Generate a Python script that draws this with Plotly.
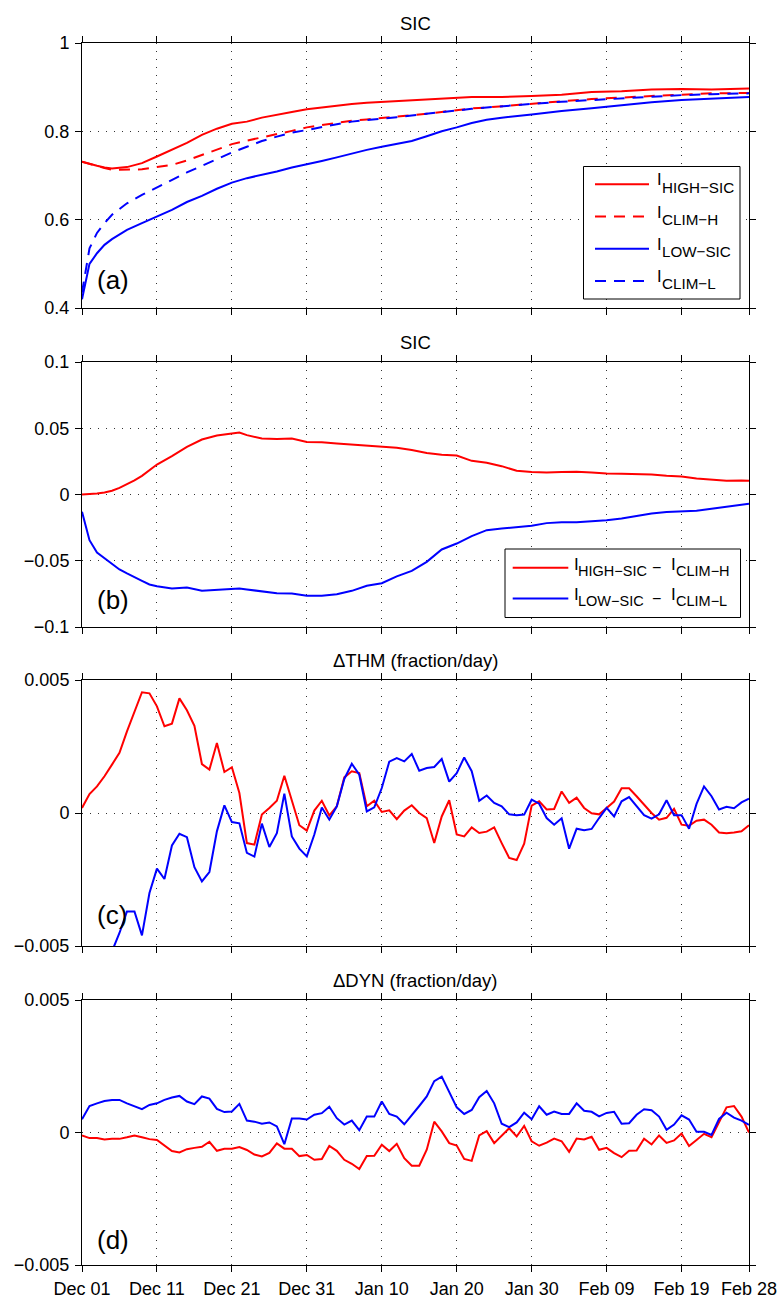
import pandas as pd
import plotly.graph_objects as go
from plotly.subplots import make_subplots

# ---------------- data ----------------
start = pd.Timestamp("2001-12-01")
n_days = 90

# Panel (a): SIC (day offsets from Dec 01)
days_a = [0, 1, 2, 3, 4, 6, 8, 10, 12, 14, 16, 18, 20, 22, 24, 26, 28, 30, 32, 34, 36, 38,
          40, 42, 44, 46, 48, 50, 52, 54, 56, 60, 64, 68, 72, 76, 80, 84, 89]
sic_high = [0.731, 0.726, 0.722, 0.718, 0.716, 0.719, 0.728, 0.743, 0.758, 0.774, 0.792, 0.806,
            0.817, 0.822, 0.831, 0.838, 0.844, 0.850, 0.854, 0.859, 0.862, 0.865,
            0.867, 0.869, 0.871, 0.873, 0.874, 0.876, 0.878, 0.878, 0.878, 0.880, 0.883,
            0.889, 0.891, 0.895, 0.896, 0.895, 0.897]
sic_clim_h = [0.731, 0.726, 0.722, 0.717, 0.713, 0.713, 0.714, 0.719, 0.724, 0.734, 0.746, 0.758,
              0.771, 0.779, 0.786, 0.794, 0.801, 0.809, 0.814, 0.820, 0.824, 0.827,
              0.830, 0.833, 0.837, 0.840, 0.844, 0.848, 0.852, 0.854, 0.857, 0.863, 0.868,
              0.873, 0.877, 0.880, 0.883, 0.886, 0.887]
sic_low = [0.420, 0.500, 0.524, 0.543, 0.556, 0.577, 0.592, 0.607, 0.622, 0.640, 0.654, 0.670,
           0.684, 0.694, 0.701, 0.709, 0.718, 0.725, 0.733, 0.741, 0.750, 0.758,
           0.765, 0.771, 0.778, 0.789, 0.800, 0.809, 0.819, 0.826, 0.831, 0.838, 0.846,
           0.852, 0.859, 0.866, 0.871, 0.874, 0.878]
sic_clim_l = [0.435, 0.535, 0.570, 0.592, 0.611, 0.637, 0.656, 0.673, 0.690, 0.707, 0.722, 0.737,
              0.752, 0.765, 0.778, 0.788, 0.797, 0.803, 0.810, 0.816, 0.822, 0.825,
              0.829, 0.832, 0.836, 0.840, 0.843, 0.847, 0.851, 0.854, 0.857, 0.862, 0.867,
              0.871, 0.875, 0.879, 0.882, 0.884, 0.886]

# Panel (b): SIC differences
days_b = [0, 1, 2, 3, 4, 5, 6, 7, 8, 9, 10, 12, 14, 16, 18, 20, 21, 22, 24, 26, 28, 30, 32, 34,
          36, 38, 40, 42, 44, 46, 48, 50, 52, 54, 56, 58, 60, 62, 64, 66, 68, 70, 72, 74,
          76, 78, 80, 82, 84, 86, 88, 89]
diff_high = [0.0, 0.0003, 0.0008, 0.0015, 0.0028, 0.0050, 0.0075, 0.0106, 0.0141, 0.0184, 0.0226,
             0.0290, 0.0360, 0.0415, 0.0445, 0.0460, 0.0468, 0.0448, 0.0423, 0.0418, 0.0423,
             0.0397, 0.0395, 0.0385, 0.0377, 0.0372, 0.0363, 0.0352, 0.0335, 0.0314, 0.0300,
             0.0294, 0.0254, 0.0239, 0.0214, 0.0179, 0.0169, 0.0166, 0.0169, 0.0171, 0.0166,
             0.0158, 0.0156, 0.0156, 0.0151, 0.0141, 0.0136, 0.0121, 0.0111, 0.0103, 0.0106, 0.0103]
diff_low = [-0.0131, -0.0345, -0.0438, -0.0483, -0.0528, -0.0566, -0.0596, -0.0621, -0.0652,
            -0.0679, -0.0692, -0.0709, -0.0702, -0.0727, -0.0722, -0.0712, -0.0710, -0.0717,
            -0.0732, -0.0745, -0.0747, -0.0765, -0.0765, -0.0752, -0.0727, -0.0689, -0.0670,
            -0.0618, -0.0576, -0.0508, -0.0415, -0.0370, -0.0314, -0.0269, -0.0257, -0.0249,
            -0.0236, -0.0216, -0.0209, -0.0209, -0.0204, -0.0194, -0.0181, -0.0164, -0.0143,
            -0.0133, -0.0126, -0.0123, -0.0108, -0.0093, -0.0078, -0.0070]

# Panel (c): delta THM (fraction/day), daily
thm_high = [0.00019, 0.00071, 0.00100, 0.00138, 0.00182, 0.00226, 0.00307, 0.00382, 0.00454, 0.00450,
            0.00401, 0.00326, 0.00336, 0.00431, 0.00386, 0.00328, 0.00184, 0.00163, 0.00263, 0.00154,
            0.00172, 0.00075, -0.00113, -0.00119, -0.00006, 0.00019, 0.00046, 0.00140, 0.00044, -0.00046,
            -0.00066, 0.00009, 0.00046, -0.00009, 0.00025, 0.00134, 0.00157, 0.00150, 0.00025, 0.00046,
            0.00004, 0.00010, -0.00023, 0.00009, 0.00029, 0.00000, -0.00019, -0.00113, -0.00013, 0.00048,
            -0.00081, -0.00088, -0.00054, -0.00075, -0.00070, -0.00054, -0.00113, -0.00169, -0.00177, -0.00115,
            0.00028, 0.00044, 0.00013, 0.00015, 0.00081, 0.00038, 0.00058, 0.00019, -0.00001, -0.00005,
            0.00019, 0.00043, 0.00093, 0.00093, 0.00063, 0.00031, 0.00000, -0.00025, -0.00018, 0.00016,
            -0.00044, -0.00048, -0.00029, -0.00025, -0.00044, -0.00073, -0.00076, -0.00073, -0.00069, -0.00046]
thm_low = [-0.00850, -0.00780, -0.00680, -0.00600, -0.00520, -0.00451, -0.00370, -0.00370, -0.00460, -0.00301,
           -0.00209, -0.00248, -0.00122, -0.00078, -0.00091, -0.00204, -0.00257, -0.00222, -0.00069, 0.00029,
           -0.00034, -0.00039, -0.00150, -0.00164, -0.00040, -0.00128, -0.00076, 0.00073, -0.00088, -0.00134,
           -0.00163, -0.00081, 0.00021, -0.00025, 0.00025, 0.00128, 0.00185, 0.00144, 0.00006, 0.00021,
           0.00094, 0.00193, 0.00206, 0.00194, 0.00222, 0.00159, 0.00169, 0.00173, 0.00203, 0.00118,
           0.00150, 0.00209, 0.00157, 0.00046, 0.00066, 0.00038, 0.00025, -0.00005, -0.00008, -0.00006,
           0.00050, 0.00035, -0.00019, -0.00044, -0.00020, -0.00134, -0.00059, -0.00065, -0.00060, -0.00019,
           0.00019, -0.00013, 0.00044, 0.00060, 0.00025, -0.00008, -0.00021, -0.00005, 0.00048, -0.00008,
           -0.00008, -0.00059, 0.00034, 0.00100, 0.00063, 0.00013, 0.00023, 0.00018, 0.00040, 0.00054]

# Panel (d): delta DYN (fraction/day), daily
dyn_high = [-0.00011, -0.00021, -0.00021, -0.00026, -0.00024, -0.00024, -0.00018, -0.00011, -0.00018, -0.00025,
            -0.00028, -0.00050, -0.00070, -0.00075, -0.00063, -0.00058, -0.00054, -0.00035, -0.00069, -0.00061,
            -0.00061, -0.00055, -0.00066, -0.00083, -0.00090, -0.00077, -0.00041, -0.00061, -0.00061, -0.00089,
            -0.00085, -0.00103, -0.00100, -0.00051, -0.00069, -0.00103, -0.00118, -0.00138, -0.00089, -0.00088,
            -0.00046, -0.00070, -0.00043, -0.00097, -0.00125, -0.00125, -0.00065, 0.00041, 0.00004, -0.00040,
            -0.00049, -0.00100, -0.00107, -0.00011, 0.00005, -0.00040, -0.00011, 0.00016, -0.00015, 0.00025,
            -0.00033, -0.00050, -0.00038, -0.00023, -0.00033, -0.00073, -0.00023, -0.00026, -0.00016, -0.00065,
            -0.00058, -0.00078, -0.00093, -0.00069, -0.00068, -0.00023, -0.00045, -0.00011, -0.00039, -0.00030,
            -0.00004, -0.00051, -0.00028, -0.00005, -0.00018, 0.00038, 0.00095, 0.00100, 0.00060, 0.00000]
dyn_low = [0.00050, 0.00100, 0.00110, 0.00119, 0.00123, 0.00123, 0.00110, 0.00100, 0.00088, 0.00104,
           0.00110, 0.00123, 0.00132, 0.00138, 0.00117, 0.00107, 0.00136, 0.00128, 0.00089, 0.00077,
           0.00079, 0.00108, 0.00045, 0.00041, 0.00033, 0.00038, 0.00023, -0.00044, 0.00053, 0.00053,
           0.00049, 0.00067, 0.00073, 0.00097, 0.00054, 0.00030, 0.00045, 0.00009, 0.00060, 0.00060,
           0.00117, 0.00070, 0.00060, 0.00031, 0.00064, 0.00100, 0.00136, 0.00194, 0.00211, 0.00154,
           0.00095, 0.00070, 0.00085, 0.00133, 0.00157, 0.00110, 0.00033, 0.00020, 0.00038, 0.00075,
           0.00050, 0.00099, 0.00067, 0.00079, 0.00070, 0.00070, 0.00110, 0.00082, 0.00078, 0.00061,
           0.00074, 0.00078, 0.00033, 0.00035, 0.00067, 0.00088, 0.00084, 0.00060, 0.00010, 0.00030,
           0.00065, 0.00049, 0.00003, 0.00003, -0.00009, 0.00051, 0.00075, 0.00056, 0.00045, 0.00029]

tick_days = [0, 10, 20, 30, 40, 50, 60, 70, 80, 89]
tick_labels = ["Dec 01", "Dec 11", "Dec 21", "Dec 31", "Jan 10", "Jan 20", "Jan 30",
               "Feb 09", "Feb 19", "Feb 28"]

titles = ["SIC", "SIC", "\u0394THM (fraction/day)", "\u0394DYN (fraction/day)"]
panel_tags = ["(a)", "(b)", "(c)", "(d)"]

# ---------------- styling / geometry ----------------
RED, BLUE = "#ff0000", "#0000ff"
FONT = "Liberation Sans, Arial, Helvetica, sans-serif"
DASH = "11px,8px"
W, H = 782, 1299
L, R, T, B = 82, 749, 43, 1265
panel_px = [(43, 308), (362, 627), (680, 946), (1000, 1265)]   # top, bottom in px


def px(xp, yp):
    return (xp - L) / (R - L), (B - yp) / (B - T)


def dates(days):
    return [start + pd.Timedelta(days=int(d)) for d in days]


all_days = list(range(n_days))

fig = make_subplots(rows=4, cols=1, shared_xaxes=True)

series = [
    (1, days_a, sic_high, RED, "solid"),
    (1, days_a, sic_clim_h, RED, DASH),
    (1, days_a, sic_low, BLUE, "solid"),
    (1, days_a, sic_clim_l, BLUE, DASH),
    (2, days_b, diff_high, RED, "solid"),
    (2, days_b, diff_low, BLUE, "solid"),
    (3, all_days, thm_high, RED, "solid"),
    (3, all_days, thm_low, BLUE, "solid"),
    (4, all_days, dyn_high, RED, "solid"),
    (4, all_days, dyn_low, BLUE, "solid"),
]
for row, dd, vals, col, dash in series:
    fig.add_trace(go.Scatter(x=dates(dd), y=vals, mode="lines",
                             line=dict(color=col, width=2, dash=dash),
                             showlegend=False, hoverinfo="skip"),
                  row=row, col=1)

yranges = [[0.4, 1.0], [-0.1, 0.1], [-0.005, 0.005], [-0.005, 0.005]]
yticks = [([0.4, 0.6, 0.8, 1.0], ["0.4", "0.6", "0.8", "1"]),
          ([-0.1, -0.05, 0, 0.05, 0.1], ["\u22120.1", "\u22120.05", "0", "0.05", "0.1"]),
          ([-0.005, 0, 0.005], ["\u22120.005", "0", "0.005"]),
          ([-0.005, 0, 0.005], ["\u22120.005", "0", "0.005"])]

axis_common = dict(showline=True, linecolor="black", linewidth=1, mirror="allticks",
                   ticks="outside", ticklen=6, tickwidth=1, tickcolor="black",
                   showgrid=True, gridcolor="#333333", gridwidth=1, griddash="1px,7px",
                   zeroline=False, automargin=False,
                   tickfont=dict(family=FONT, size=18, color="black"))

for i in range(4):
    top, bot = panel_px[i]
    dom = [(B - bot) / (B - T), (B - top) / (B - T)]
    fig.update_yaxes(row=i + 1, col=1, domain=dom, range=yranges[i],
                     tickmode="array", tickvals=yticks[i][0], ticktext=yticks[i][1],
                     ticklabelstandoff=2, **axis_common)
    fig.update_xaxes(row=i + 1, col=1, type="date",
                     range=[start, start + pd.Timedelta(days=n_days - 1)],
                     tickmode="array", tickvals=dates(tick_days), ticktext=tick_labels,
                     showticklabels=(i == 3), ticklabelstandoff=1, **axis_common)

annotations = []
for i in range(4):
    top, bot = panel_px[i]
    xt, yt = px(415.5, top - 19.5)
    annotations.append(dict(x=xt, y=yt, xref="paper", yref="paper", text=titles[i],
                            showarrow=False, xanchor="center", yanchor="middle",
                            font=dict(family=FONT, size=18.5, color="black")))
tag_y = [280, 600, 915, 1240]
for i in range(4):
    xt, yt = px(95.5, tag_y[i])
    annotations.append(dict(x=xt, y=yt, xref="paper", yref="paper", text=panel_tags[i],
                            showarrow=False, xanchor="left", yanchor="middle", borderpad=0,
                            font=dict(family=FONT, size=26, color="black")))

shapes = []


def legend_box(x0, y0, x1, y1):
    a0, b0 = px(x0, y1)
    a1, b1 = px(x1, y0)
    shapes.append(dict(type="rect", xref="paper", yref="paper", x0=a0, y0=b0, x1=a1, y1=b1,
                       line=dict(color="black", width=1), fillcolor="white", layer="above"))


def legend_line(x0, x1, y, col, dash):
    a0, b = px(x0, y)
    a1, _ = px(x1, y)
    shapes.append(dict(type="line", xref="paper", yref="paper", x0=a0, y0=b, x1=a1, y1=b,
                       line=dict(color=col, width=2, dash=dash), layer="above"))


def text_at(x, y, s, size):
    a, b = px(x, y)
    annotations.append(dict(x=a, y=b, xref="paper", yref="paper", text=s, showarrow=False,
                            xanchor="left", yanchor="middle", borderpad=0,
                            font=dict(family=FONT, size=size, color="black")))


# legend (a)
legend_box(583.5, 166.5, 740, 299)
leg_a = [("HIGH\u2212SIC", RED, "solid"), ("CLIM\u2212H", RED, DASH),
         ("LOW\u2212SIC", BLUE, "solid"), ("CLIM\u2212L", BLUE, DASH)]
for k, (sub, col, dash) in enumerate(leg_a):
    yl = 184.3 + k * 32.2
    legend_line(595, 649, yl, col, dash)
    text_at(656, yl - 4.8, "I", 16.5)
    text_at(660.5, yl + 2.8, sub, 15.2)

# legend (b)
legend_box(505, 549, 740.5, 617.5)
leg_b = [("HIGH\u2212SIC", "CLIM\u2212H", RED), ("LOW\u2212SIC", "CLIM\u2212L", BLUE)]
for k, (s1, s2, col) in enumerate(leg_b):
    yl = 567.7 + k * 30.7
    legend_line(512.7, 568.3, yl, col, "solid")
    text_at(572.5, yl - 3.5, "I", 17)
    text_at(577, yl + 3, s1, 14.5)
    text_at(651, yl, "\u2212", 16)
    text_at(670.2, yl - 3.5, "I", 17)
    text_at(675, yl + 3, s2, 14.5)

fig.update_layout(width=W, height=H, margin=dict(l=L, r=W - R, t=T, b=H - B),
                  plot_bgcolor="white", paper_bgcolor="white",
                  annotations=annotations, shapes=shapes, showlegend=False)

fig.write_html("out.html")
